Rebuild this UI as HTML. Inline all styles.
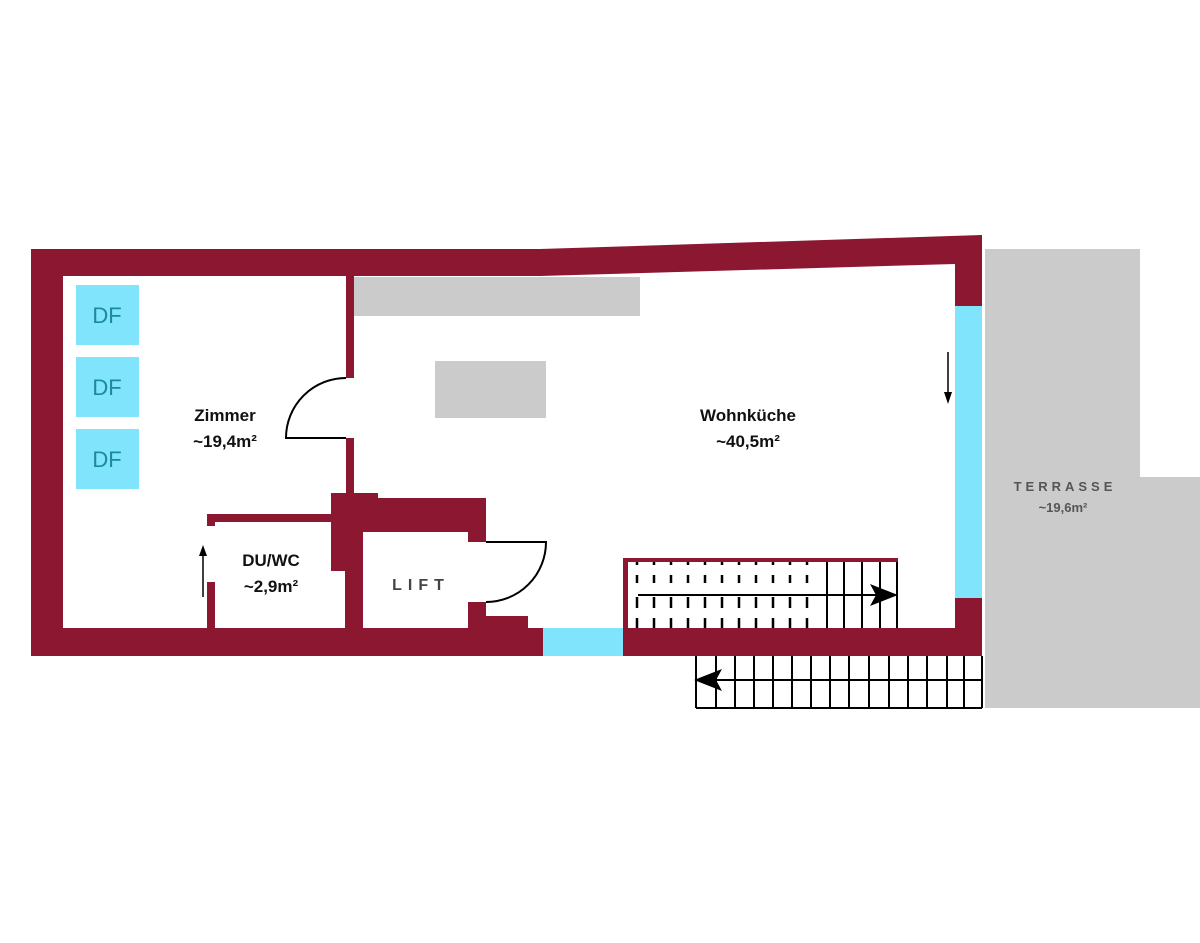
<!DOCTYPE html>
<html><head><meta charset="utf-8"><style>
html,body{margin:0;padding:0;background:#fff;}
svg{display:block}
text{font-family:"Liberation Sans",sans-serif;}
</style></head><body>
<svg width="1200" height="943" viewBox="0 0 1200 943" xmlns="http://www.w3.org/2000/svg">
<path d="M985 249 H1140 V477 H1200 V708 H985 Z" fill="#cbcbcb"/>
<rect x="354" y="277" width="286" height="39" fill="#cbcbcb"/>
<rect x="435" y="361" width="111" height="57" fill="#cbcbcb"/>
<g fill="#8c1730">
<path d="M31 249 H540 L982 235 V306 H955 V264 L540 276 H63 V628 H31 Z"/>
<rect x="31" y="628" width="512" height="28"/>
<rect x="623" y="628" width="359" height="28"/>
<rect x="955" y="598" width="27" height="58"/>
<rect x="346" y="276" width="8" height="102"/>
<rect x="346" y="438" width="8" height="57"/>
<rect x="331" y="493" width="47" height="10"/>
<rect x="331" y="498" width="155" height="34"/>
<rect x="331" y="498" width="32" height="73"/>
<rect x="345" y="498" width="18" height="136"/>
<rect x="468" y="498" width="18" height="44"/>
<rect x="468" y="602" width="18" height="54"/>
<rect x="486" y="616" width="42" height="40"/>
<rect x="345" y="633" width="200" height="23"/>
<rect x="207" y="514" width="124" height="8"/>
<rect x="207" y="514" width="8" height="12"/>
<rect x="207" y="582" width="8" height="46"/>
<rect x="623" y="558" width="275" height="4"/>
<rect x="623" y="558" width="5" height="70"/>
</g>
<rect x="955" y="306" width="27" height="292" fill="#80e4fc"/>
<rect x="543" y="628" width="80" height="28" fill="#80e4fc"/>
<g fill="#80e4fc">
<rect x="76" y="285" width="63" height="60"/>
<rect x="76" y="357" width="63" height="60"/>
<rect x="76" y="429" width="63" height="60"/>
</g>
<g fill="#1a8a9a" font-size="22" text-anchor="middle">
<text x="107" y="323">DF</text>
<text x="107" y="395">DF</text>
<text x="107" y="467">DF</text>
</g>
<g fill="none" stroke="#000" stroke-width="2">
<path d="M346 378 A60 60 0 0 0 286 438 H346"/>
<path d="M486 542 H546 A60 60 0 0 1 486 602"/>
</g>
<g stroke="#000" stroke-width="1.5">
<line x1="203" y1="597" x2="203" y2="552"/>
<line x1="948" y1="352" x2="948" y2="396"/>
</g>
<path d="M203 545 L199 556 L207 556 Z" fill="#000"/>
<path d="M948 404 L944 392 L952 392 Z" fill="#000"/>
<g stroke="#000" stroke-width="2.5" stroke-dasharray="3 10 8 14 11 10 10 0">
<line x1="637" y1="562" x2="637" y2="628"/><line x1="654" y1="562" x2="654" y2="628"/><line x1="671" y1="562" x2="671" y2="628"/><line x1="688" y1="562" x2="688" y2="628"/><line x1="705" y1="562" x2="705" y2="628"/><line x1="722" y1="562" x2="722" y2="628"/><line x1="739" y1="562" x2="739" y2="628"/><line x1="756" y1="562" x2="756" y2="628"/><line x1="773" y1="562" x2="773" y2="628"/><line x1="790" y1="562" x2="790" y2="628"/><line x1="807" y1="562" x2="807" y2="628"/>
</g>
<g stroke="#000" stroke-width="2">
<line x1="827" y1="562" x2="827" y2="628"/><line x1="844" y1="562" x2="844" y2="628"/><line x1="862" y1="562" x2="862" y2="628"/><line x1="880" y1="562" x2="880" y2="628"/><line x1="897" y1="562" x2="897" y2="628"/>
<line x1="638" y1="595" x2="880" y2="595"/>
</g>
<path d="M898 595 L870 584 L876 595 L870 606 Z" fill="#000"/>
<g stroke="#000" stroke-width="2" fill="none">
<line x1="696" y1="708" x2="982" y2="708"/>
<line x1="696" y1="680" x2="982" y2="680"/>
<line x1="696" y1="656" x2="696" y2="708"/><line x1="716" y1="656" x2="716" y2="708"/><line x1="735" y1="656" x2="735" y2="708"/><line x1="754" y1="656" x2="754" y2="708"/><line x1="773" y1="656" x2="773" y2="708"/><line x1="792" y1="656" x2="792" y2="708"/><line x1="811" y1="656" x2="811" y2="708"/><line x1="830" y1="656" x2="830" y2="708"/><line x1="849" y1="656" x2="849" y2="708"/><line x1="869" y1="656" x2="869" y2="708"/><line x1="889" y1="656" x2="889" y2="708"/><line x1="908" y1="656" x2="908" y2="708"/><line x1="927" y1="656" x2="927" y2="708"/><line x1="947" y1="656" x2="947" y2="708"/><line x1="964" y1="656" x2="964" y2="708"/><line x1="982" y1="656" x2="982" y2="708"/>
</g>
<path d="M694 680 L722 669 L716 680 L722 691 Z" fill="#000"/>
<g font-weight="bold" font-size="17" text-anchor="middle" fill="#111">
<text x="225" y="421">Zimmer</text>
<text x="225" y="447">~19,4m²</text>
<text x="748" y="421">Wohnküche</text>
<text x="748" y="447">~40,5m²</text>
<text x="271" y="566">DU/WC</text>
<text x="271" y="592">~2,9m²</text>
</g>
<text x="421" y="590" font-size="16" font-weight="bold" fill="#444" text-anchor="middle" letter-spacing="6">LIFT</text>
<text x="1065" y="491" font-size="13" font-weight="bold" fill="#555" text-anchor="middle" letter-spacing="4">TERRASSE</text>
<text x="1063" y="512" font-size="13" font-weight="bold" fill="#555" text-anchor="middle">~19,6m²</text>
</svg>
</body></html>
